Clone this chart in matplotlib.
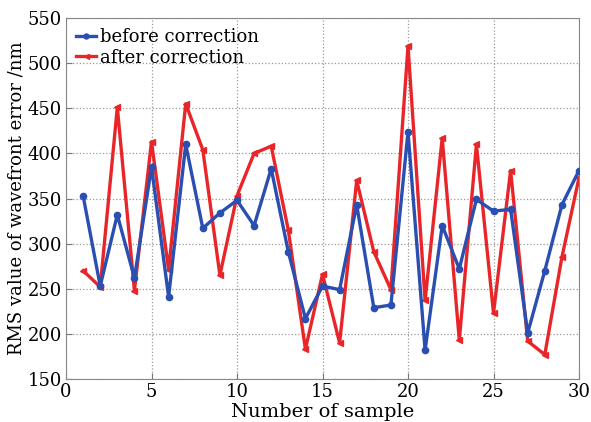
import matplotlib
matplotlib.use("Agg")
import matplotlib.pyplot as plt

samples = list(range(1, 31))
before = [353, 253, 332, 262, 385, 241, 410, 317, 334, 348,
          320, 383, 291, 217, 253, 249, 343, 229, 232, 424,
          182, 320, 272, 349, 336, 338, 201, 270, 343, 381]
after = [270, 252, 451, 248, 413, 271, 455, 404, 265, 353,
         400, 408, 315, 183, 266, 190, 370, 291, 249, 519,
         237, 417, 193, 410, 223, 381, 192, 177, 285, 373]
xticks = [0, 5, 10, 15, 20, 25, 30]
yticks = [150, 200, 250, 300, 350, 400, 450, 500, 550]

plt.rcParams['font.family'] = ['DejaVu Serif']
fig = plt.figure(figsize=(5.91, 4.22), dpi=100)
ax = fig.add_axes([0.1117, 0.1019, 0.868, 0.8554])

ax.plot(samples, before, color='#2a4fb0', lw=2.4, marker='o', ms=4.5,
        label='before correction', zorder=3)
ax.plot(samples, after, color='#e8262a', lw=2.4, marker='<', ms=4.5,
        label='after correction', zorder=2)

ax.set_xlim(0, 30)
ax.set_ylim(150, 550)
ax.set_xticks(xticks)
ax.set_yticks(yticks)
ax.tick_params(direction='in', labelsize=13, length=4, color='#777777')
ax.tick_params(axis='x', pad=3)
ax.tick_params(axis='y', pad=3)
ax.grid(True, linestyle=':', color='#999999', lw=0.9)
for s in ax.spines.values():
    s.set_color('#888888')
ax.set_xlabel('Number of sample', fontsize=14, labelpad=1)
ax.set_ylabel('RMS value of wavefront error /nm', fontsize=13, labelpad=1)
ax.legend(loc='upper left', frameon=False, fontsize=13, handlelength=1.1,
          handletextpad=0.25, labelspacing=0.15, borderaxespad=0.15,
          markerscale=0.8)
fig.savefig('out.png', dpi=100)
